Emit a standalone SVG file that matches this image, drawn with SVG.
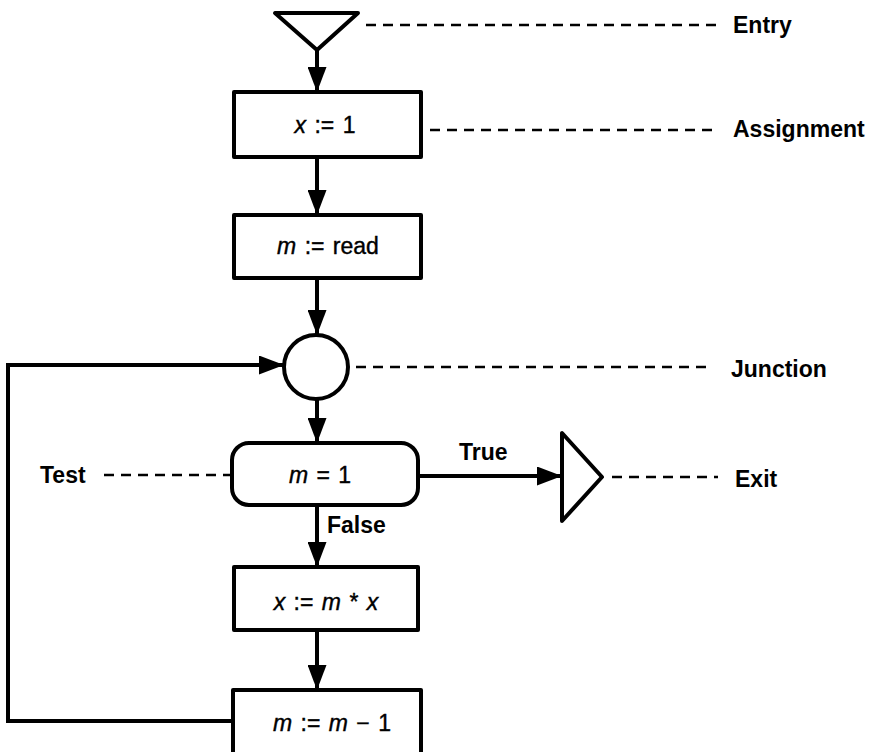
<svg xmlns="http://www.w3.org/2000/svg" width="879" height="752" viewBox="0 0 879 752">
  <style>
    .node { fill: #fff; stroke: #000; stroke-width: 4; stroke-linejoin: round; }
    .edge { fill: none; stroke: #000; stroke-width: 4; }
    .dash { fill: none; stroke: #000; stroke-width: 2.5; stroke-dasharray: 10 7; }
    .lbl { font-family: "Liberation Sans", Arial, sans-serif; font-size: 23px; font-weight: bold; fill: #000; }
    .ntx { font-family: "Liberation Sans", Arial, sans-serif; font-size: 23px; fill: #000; stroke: #000; stroke-width: 0.4; text-anchor: middle; word-spacing: 2px; }
    .it { font-style: italic; }
  </style>
  <defs>
    <marker id="arr" markerUnits="userSpaceOnUse" markerWidth="25" markerHeight="19" refX="25" refY="9.5" orient="auto">
      <path d="M0,0 L25,9.5 L0,19 z" fill="#000"/>
    </marker>
  </defs>
  <rect width="879" height="752" fill="#fff"/>

  <g id="connectors">
    <line class="edge" x1="317" y1="50" x2="317" y2="92" marker-end="url(#arr)"/>
    <line class="edge" x1="317" y1="157" x2="317" y2="215" marker-end="url(#arr)"/>
    <line class="edge" x1="317" y1="278" x2="317" y2="335" marker-end="url(#arr)"/>
    <line class="edge" x1="317" y1="399" x2="317" y2="443" marker-end="url(#arr)"/>
    <line class="edge" x1="317" y1="505" x2="317" y2="567" marker-end="url(#arr)"/>
    <line class="edge" x1="317" y1="630" x2="317" y2="690" marker-end="url(#arr)"/>
    <line class="edge" x1="418" y1="476" x2="562" y2="476" marker-end="url(#arr)"/>
    <path class="edge" d="M232,721 L8,721 L8,365 L284,365" marker-end="url(#arr)"/>
    <text class="lbl" x="459" y="460">True</text>
    <text class="lbl" x="327" y="533">False</text>
  </g>

  <g id="entry">
    <polygon class="node" points="275,13 358,13 317,50"/>
    <line class="dash" x1="366" y1="25" x2="716" y2="25"/>
    <text class="lbl" x="733" y="33">Entry</text>
  </g>

  <g id="assign1">
    <rect class="node" x="234" y="92" width="187" height="65"/>
    <text class="ntx" x="325" y="133"><tspan class="it">x</tspan> := 1</text>
    <line class="dash" x1="430" y1="130" x2="716" y2="130"/>
    <text class="lbl" x="733" y="137">Assignment</text>
  </g>

  <g id="assign2">
    <rect class="node" x="234" y="215" width="187" height="63"/>
    <text class="ntx" x="328" y="254"><tspan class="it">m</tspan> := read</text>
  </g>

  <g id="junction">
    <circle class="node" cx="316" cy="367" r="32"/>
    <line class="dash" x1="356" y1="367" x2="710" y2="367"/>
    <text class="lbl" x="731" y="377">Junction</text>
  </g>

  <g id="test">
    <rect class="node" x="232" y="443" width="186" height="62" rx="17" ry="17"/>
    <text class="ntx" x="320" y="483"><tspan class="it">m</tspan> = 1</text>
    <line class="dash" x1="104" y1="475" x2="230" y2="475"/>
    <text class="lbl" x="40" y="483">Test</text>
  </g>

  <g id="exit">
    <polygon class="node" points="562,433 562,521 602,477"/>
    <line class="dash" x1="612" y1="477" x2="718" y2="477"/>
    <text class="lbl" x="735" y="487">Exit</text>
  </g>

  <g id="assign3">
    <rect class="node" x="234" y="567" width="184" height="63"/>
    <text class="ntx" x="326" y="610"><tspan class="it">x</tspan> := <tspan class="it">m</tspan> * <tspan class="it">x</tspan></text>
  </g>

  <g id="assign4">
    <rect class="node" x="233" y="690" width="188" height="80"/>
    <text class="ntx" x="332" y="731"><tspan class="it">m</tspan> := <tspan class="it">m</tspan> − 1</text>
  </g>
</svg>
